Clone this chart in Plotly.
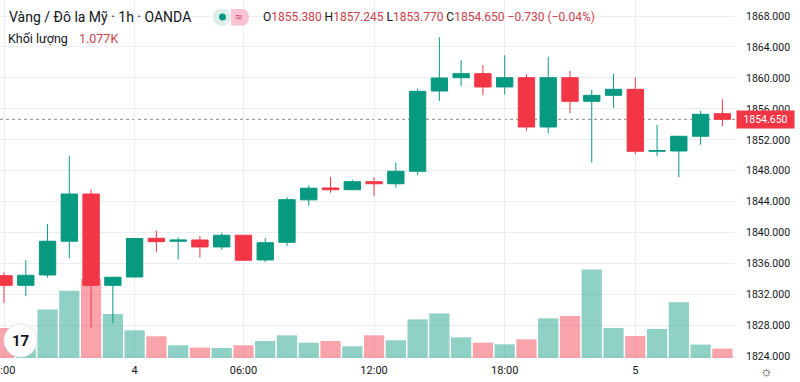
import plotly.graph_objects as go

# ---------------- data ----------------
idx = list(range(34))
open_ = [1834.45, 1833.2, 1834.54, 1838.9, 1845.0, 1833.2, 1834.28, 1839.28, 1838.89, 1839.06,
         1838.16, 1839.67, 1836.48, 1838.76, 1844.25, 1845.78, 1845.56, 1846.59, 1846.33, 1847.94,
         1858.31, 1860.03, 1860.55, 1858.83, 1860.03, 1853.66, 1860.03, 1856.98, 1857.75, 1858.53,
         1850.52, 1850.56, 1852.46, 1855.38]
high = [1834.9, 1836.44, 1841.1, 1849.95, 1845.6, 1834.3, 1839.3, 1840.26, 1839.4, 1839.58,
        1840.0, 1839.7, 1839.32, 1844.58, 1846.13, 1847.2, 1846.85, 1847.16, 1849.05, 1858.61,
        1865.25, 1862.28, 1861.67, 1862.92, 1860.47, 1862.74, 1860.89, 1858.44, 1860.51, 1860.08,
        1853.92, 1852.5, 1855.76, 1857.245]
low = [1830.9, 1831.8, 1834.2, 1836.7, 1827.65, 1828.3, 1834.2, 1837.47, 1836.54, 1836.77,
       1837.8, 1836.4, 1836.22, 1838.28, 1843.49, 1845.17, 1845.48, 1844.74, 1845.82, 1847.46,
       1857.02, 1858.96, 1857.75, 1857.88, 1853.18, 1852.84, 1855.43, 1849.05, 1856.15, 1850.17,
       1849.91, 1847.16, 1851.37, 1853.77]
close = [1833.2, 1834.5, 1838.9, 1845.0, 1833.2, 1834.24, 1839.25, 1838.84, 1839.06, 1838.16,
         1839.67, 1836.44, 1838.71, 1844.27, 1845.75, 1845.56, 1846.59, 1846.33, 1847.94, 1858.27,
         1859.99, 1860.55, 1858.83, 1860.03, 1853.66, 1860.03, 1856.98, 1857.75, 1858.53, 1850.52,
         1850.62, 1852.46, 1855.3, 1854.65]
volume = [3440, 1950, 5550, 7720, 9050, 5040, 3170, 2490, 1460, 1190,
          1150, 1460, 1950, 2600, 1760, 1950, 1340, 2600, 2030, 4430,
          5090, 2370, 1760, 1570, 2140, 4550, 4810, 10130, 3440, 2520,
          3320, 6380, 1540, 1077]
time_tick_pos = [0, 6, 11, 17, 23, 29]
time_tick_labels = ["18:00", "4", "06:00", "12:00", "18:00", "5"]
price_ticks = list(range(1824, 1869, 4))
last_price = 1854.65

GREEN = "#089981"
RED = "#f23645"
TXT = "#131722"
VALRED = "#c9424a"
FONT = "Roboto"

W, H = 800, 382
ML, MR, MT, MB = 0, 65, 0, 24
PW, PH = W - ML - MR, H - MT - MB


def px(x):
    return (x - ML) / PW


def py(y):
    return 1 - (y - MT) / PH


vol_colors = ["rgba(8,153,129,0.45)" if c >= o else "rgba(242,54,69,0.45)"
              for o, c in zip(open_, close)]

fig = go.Figure()
fig.add_trace(go.Bar(x=idx, y=volume, marker_color=vol_colors, marker_line_width=0,
                     yaxis="y", hoverinfo="skip"))
fig.add_trace(go.Candlestick(
    x=idx, open=open_, high=high, low=low, close=close, yaxis="y2",
    increasing=dict(line=dict(color=GREEN, width=1), fillcolor=GREEN),
    decreasing=dict(line=dict(color=RED, width=1), fillcolor=RED),
    whiskerwidth=0,
))

grid = "#eceef3"
fig.update_layout(
    width=W, height=H,
    margin=dict(l=ML, r=MR, t=MT, b=MB),
    paper_bgcolor="white", plot_bgcolor="white",
    showlegend=False,
    bargap=0.07, boxgap=0.25, boxgroupgap=0,
    font=dict(family=FONT, color=TXT),
    xaxis=dict(range=[-0.184, 33.58], tickvals=time_tick_pos, ticktext=time_tick_labels,
               showgrid=True, gridcolor=grid, zeroline=False, ticks="",
               tickfont=dict(size=11, color=TXT, family=FONT), ticklabelstandoff=4,
               rangeslider=dict(visible=False), showline=False),
    yaxis=dict(range=[0, 41030], visible=False, showgrid=False),
    yaxis2=dict(overlaying="y", side="right", range=[1823.81, 1870.07],
                tickvals=price_ticks, ticktext=[f"{v:.3f}" for v in price_ticks],
                showgrid=True, gridcolor=grid, zeroline=False, ticks="",
                tickfont=dict(size=10.5, color=TXT, family=FONT), ticklabelstandoff=10,
                showline=False),
)

shapes = []
# price line
shapes.append(dict(type="line", xref="paper", x0=0, x1=1, yref="y2", y0=last_price, y1=last_price,
                   line=dict(color="#a08585", width=1, dash="dot"), layer="below"))
# cover clipped bottom of price scale
shapes.append(dict(type="rect", xref="paper", yref="paper", x0=1.0, x1=px(800), y0=py(361), y1=py(382),
                   fillcolor="white", line=dict(width=0), layer="above"))
# pill icons in header
shapes.append(dict(type="circle", xref="paper", yref="paper", x0=px(213), x1=px(231), y0=py(8.5), y1=py(26),
                   fillcolor="#dcefea", line=dict(width=0), layer="above"))
shapes.append(dict(type="rect", xref="paper", yref="paper", x0=px(231), x1=px(244), y0=py(9), y1=py(25.5),
                   fillcolor="#f8c3d2", line=dict(width=0), layer="above"))
shapes.append(dict(type="circle", xref="paper", yref="paper", x0=px(238), x1=px(249), y0=py(9), y1=py(25.5),
                   fillcolor="#f8c3d2", line=dict(width=0), layer="above"))
shapes.append(dict(type="circle", xref="paper", yref="paper", x0=px(219), x1=px(226), y0=py(13.5), y1=py(20.5),
                   fillcolor=GREEN, line=dict(width=0), layer="above"))
# logo
shapes.append(dict(type="circle", xref="paper", yref="paper", x0=px(4), x1=px(37), y0=py(324), y1=py(357),
                   fillcolor="white", line=dict(color="#e3e5ea", width=1), layer="above"))
fig.update_layout(shapes=shapes)

ann = []


def A(x, y, text, size, color=TXT, **kw):
    d = dict(xref="paper", yref="paper", x=px(x), y=py(y), text=text, showarrow=False,
             xanchor="left", yanchor="middle", font=dict(size=size, color=color, family=FONT))
    d.update(kw)
    ann.append(d)


A(7, 17, "Vàng / Đô la Mỹ · 1h · OANDA", 14)
A(233, 17, "≈", 13, "#e0457a")
sp = lambda t: f"<span style='color:{VALRED}'>{t}</span>"
A(261, 17, f"O{sp('1855.380')} H{sp('1857.245')} L{sp('1853.770')} C{sp('1854.650')} "
           f"{sp('−0.730 (−0.04%)')}", 12)
A(6, 38, "Khối lượng", 12.5)
A(77, 38, "1.077K", 12.5, VALRED)
A(10, 341, "<b>17</b>", 15, "#131722")
A(758, 371, "☼", 14, "#131722")
# partially visible first time label (cut at the left edge)
A(-14, 370, time_tick_labels[0], 11)
ann.append(dict(xref="paper", yref="y2", x=px(736), y=last_price, text="1854.650", showarrow=False,
                xanchor="left", yanchor="middle", bgcolor=RED, borderpad=2, width=53,
                font=dict(size=10.5, color="white", family=FONT)))
fig.update_layout(annotations=ann)

fig.write_html("out.html", config={"displayModeBar": False},
               post_script="document.body.style.margin='0';document.body.style.padding='0';")
